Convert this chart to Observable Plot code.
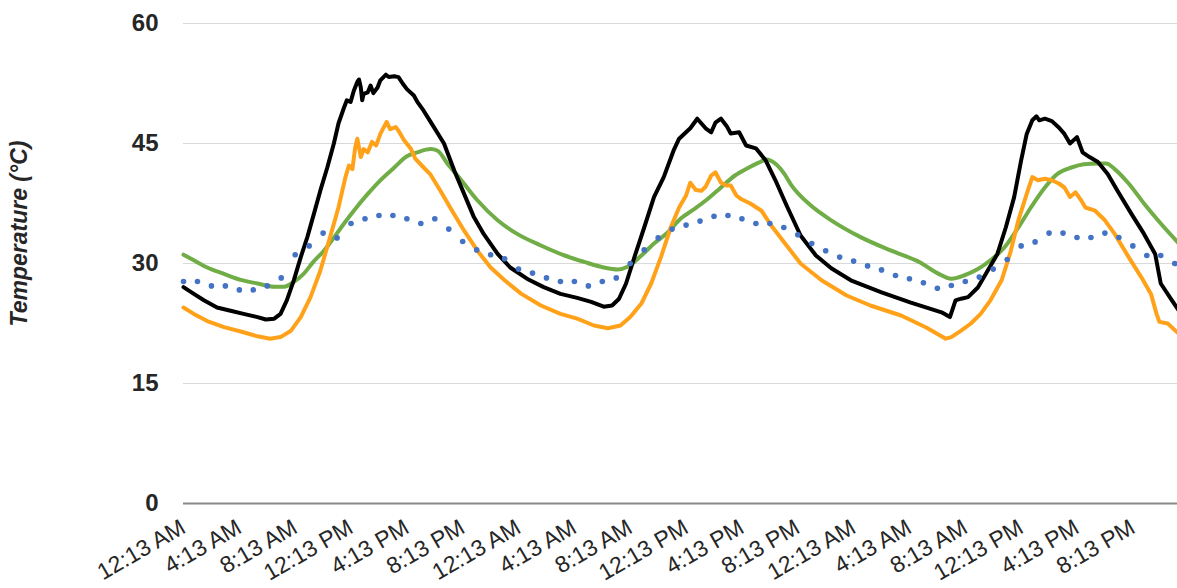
<!DOCTYPE html>
<html><head><meta charset="utf-8">
<script src="https://cdn.jsdelivr.net/npm/d3@7"></script>
<script src="https://cdn.jsdelivr.net/npm/@observablehq/plot@0.6"></script>
<style>
html,body{margin:0;padding:0;background:#fff;}
#chart{width:1177px;height:588px;overflow:hidden;}
</style></head><body><div id="chart"></div>
<script>
// [hours since 12:13 AM day 1, temperature °C]
const blackSeries = [[0,27.05],[0.74,26.2],[1.46,25.4],[2.4,24.5],[3.37,24.1],[4.3,23.7],[5.3,23.3],[5.9,23.0],[6.5,23.1],[6.95,23.7],[7.4,25.4],[7.9,27.9],[8.4,30.8],[8.87,33.3],[9.34,36.2],[9.8,39.1],[10.3,42.0],[10.77,45.0],[11.1,47.5],[11.5,49.5],[11.7,50.4],[11.97,50.2],[12.2,51.6],[12.45,52.7],[12.57,53.0],[12.7,52.0],[12.8,50.4],[12.9,51.2],[13.2,51.4],[13.4,52.25],[13.6,51.3],[13.9,52.0],[14.1,52.9],[14.5,53.6],[14.7,53.3],[15.1,53.4],[15.4,53.3],[15.7,52.5],[16.0,51.8],[16.5,51.0],[16.75,50.2],[17.2,49.1],[17.7,47.7],[18.66,45.0],[19.4,41.6],[20.1,38.7],[20.8,35.8],[21.5,33.7],[22.5,31.2],[23.4,29.5],[24.6,28.1],[25.8,27.05],[27.0,26.2],[28.2,25.7],[29.2,25.2],[30.1,24.6],[30.7,24.75],[31.2,25.6],[31.7,27.5],[32.3,30.8],[33.0,34.5],[33.7,38.3],[34.4,40.8],[35.1,44.1],[35.5,45.6],[36.3,46.9],[36.8,48.1],[37.4,46.9],[37.8,46.4],[38.1,47.6],[38.5,48.1],[38.9,47.2],[39.2,46.25],[39.8,46.4],[40.3,44.75],[41.0,44.4],[41.7,42.9],[42.4,40.4],[43.2,37.25],[44.2,33.5],[45.3,31.0],[46.4,29.4],[47.8,27.9],[50.0,26.4],[52.1,25.1],[54.3,23.9],[54.9,23.3],[55.3,25.4],[55.7,25.6],[56.2,25.8],[56.9,27.0],[57.6,29.1],[58.3,31.2],[58.9,34.5],[59.5,38.3],[60.0,42.9],[60.4,46.2],[60.8,47.9],[61.1,48.4],[61.3,47.9],[61.7,48.1],[62.2,47.8],[62.7,47.0],[63.1,46.2],[63.5,45.0],[64.0,45.8],[64.4,43.9],[64.9,43.3],[65.5,42.7],[66.2,41.2],[66.9,39.1],[67.9,36.2],[68.8,33.7],[69.6,31.2],[70.0,27.5],[70.8,25.4],[71.3,24.1]];
const orangeSeries = [[0,24.5],[0.74,23.7],[1.7,22.8],[2.9,22.05],[4.1,21.5],[5.3,20.9],[6.2,20.6],[6.95,20.8],[7.7,21.6],[8.4,23.3],[9.1,25.8],[9.8,29.1],[10.5,33.3],[11.1,37.0],[11.6,40.8],[11.85,42.25],[12.1,41.8],[12.3,44.5],[12.45,45.6],[12.7,43.3],[12.9,44.3],[13.2,43.9],[13.5,45.2],[13.8,44.75],[14.1,46.2],[14.55,47.7],[14.8,46.8],[15.2,47.05],[15.4,46.6],[15.8,45.4],[16.3,44.3],[16.6,43.1],[17.2,42.0],[17.7,41.1],[18.4,39.1],[19.1,37.0],[20.1,34.1],[21.05,31.6],[22.0,29.5],[23.0,27.9],[24.2,26.2],[25.6,24.75],[27.0,23.7],[28.2,23.1],[29.4,22.25],[30.4,21.9],[31.3,22.25],[32.0,23.3],[32.8,25.0],[33.5,27.5],[34.2,30.8],[34.9,34.5],[35.5,37.0],[36.0,38.5],[36.3,40.1],[36.7,39.2],[37.1,39.1],[37.4,39.6],[37.8,41.0],[38.1,41.4],[38.5,40.1],[38.9,39.75],[39.2,39.75],[39.6,38.5],[39.9,38.1],[40.6,37.5],[41.4,36.6],[42.1,34.75],[43.2,32.25],[44.2,30.0],[45.7,27.9],[47.5,26.0],[49.2,24.75],[51.4,23.5],[53.2,22.0],[54.6,20.6],[55.0,20.8],[55.7,21.6],[56.4,22.5],[57.1,23.7],[57.8,25.4],[58.6,27.9],[59.2,31.2],[59.8,35.4],[60.4,38.7],[60.8,40.8],[61.2,40.4],[61.7,40.6],[62.2,40.4],[62.7,40.0],[63.1,39.5],[63.5,38.3],[63.9,38.9],[64.3,37.9],[64.6,37.0],[65.3,36.6],[66.0,35.4],[66.7,33.7],[67.7,30.8],[68.6,28.3],[69.3,26.2],[69.7,23.7],[69.9,22.7],[70.5,22.5],[71.3,21.2]];
const greenSeries = [[0,31.1],[0.74,30.4],[1.7,29.5],[2.9,28.7],[4.1,27.95],[5.3,27.5],[6.5,27.1],[7.2,27.1],[7.9,27.7],[8.6,28.7],[9.3,30.2],[10.06,31.6],[10.8,33.3],[11.5,35.0],[12.2,36.6],[13.2,38.7],[14.1,40.4],[15.1,42.0],[16.0,43.4],[16.75,43.9],[17.7,44.3],[18.2,44.1],[18.9,42.5],[19.9,40.4],[21.05,37.9],[22.5,35.4],[23.9,33.7],[25.6,32.25],[27.3,31.0],[28.7,30.2],[30.1,29.5],[31.1,29.25],[31.8,29.6],[32.8,31.0],[33.7,32.5],[34.7,33.9],[35.6,35.6],[36.5,36.7],[37.5,38.0],[38.5,39.5],[39.5,41.0],[40.5,42.0],[41.2,42.6],[41.8,43.0],[42.3,42.6],[43.0,41.3],[43.5,39.9],[44.9,37.3],[46.4,35.4],[48.5,33.3],[50.7,31.6],[52.8,30.1],[54.0,28.8],[55.0,28.1],[55.9,28.5],[56.9,29.3],[57.8,30.4],[58.8,32.0],[59.8,34.5],[60.7,37.0],[61.7,39.5],[62.6,41.2],[63.6,42.0],[64.5,42.4],[65.5,42.5],[66.1,42.5],[66.7,41.8],[67.7,40.0],[68.8,37.5],[70.0,35.0],[71.3,32.5]];
const blueSeries = [[0,27.75],[1,27.75],[2,27.2],[3,27.2],[4,26.7],[5,26.7],[6,27.2],[7,28.2],[8,31.1],[9,32.2],[10,33.8],[11,33.2],[12,35.0],[13,35.6],[14,36.0],[15,36.0],[16,35.6],[17,35.0],[18,35.6],[19,34.3],[20,32.75],[21,31.7],[22,31.1],[23,30.6],[24,29.3],[25,28.8],[26,28.2],[27,27.75],[28,27.75],[29,27.2],[30,27.75],[31,28.2],[32,30.0],[33,31.7],[34,33.2],[35,34.3],[36,34.8],[37,35.3],[38,35.9],[39,36.0],[40,35.6],[41,35.0],[42,35.0],[43,34.5],[44,33.6],[45,32.5],[46,31.6],[47,30.8],[48,30.3],[49,29.7],[50,29.2],[51,28.5],[52,28.1],[53,27.6],[54,26.9],[55,27.25],[56,27.75],[57,28.3],[58,29.3],[59,30.5],[60,32.2],[61,32.7],[62,33.8],[63,33.8],[64,33.25],[65,33.25],[66,33.8],[67,33.25],[68,32.2],[69,31.0],[70,31.0],[71,30.0]];

const xTickHours = [0,4,8,12,16,20,24,28,32,36,40,44,48,52,56,60,64,68];
const xTickLabels = ["12:13 AM","4:13 AM","8:13 AM","12:13 PM","4:13 PM","8:13 PM","12:13 AM","4:13 AM","8:13 AM","12:13 PM","4:13 PM","8:13 PM","12:13 AM","4:13 AM","8:13 AM","12:13 PM","4:13 PM","8:13 PM"];
const yTicks = [0,15,30,45,60];
const yLabel = "Temperature (°C)";

const labelOf = new Map(xTickHours.map((h, i) => [h, xTickLabels[i]]));
const X = d => d[0], Y = d => d[1];

const chart = Plot.plot({
  width: 1177, height: 588,
  marginLeft: 183, marginRight: 0, marginTop: 23, marginBottom: 85,
  style: {fontFamily: "'Liberation Sans', Arial, sans-serif", background: "#fff"},
  x: {domain: [0, 71.2]},
  y: {domain: [0, 60]},
  marks: [
    Plot.ruleY(yTicks.filter(v => v > 0), {stroke: "#d9d9d9", strokeWidth: 1.2}),
    Plot.ruleY([0], {stroke: "#888", strokeWidth: 2.2}),
    Plot.axisY({ticks: yTicks, tickSize: 0, tickPadding: 25, fontSize: 24, fontWeight: "bold", fill: "#262626", label: null}),
    Plot.axisX({ticks: xTickHours, tickFormat: d => labelOf.get(d), tickRotate: -30, tickSize: 0, tickPadding: 22, fontSize: 23, fill: "#262626", label: null}),
    Plot.text([yLabel], {frameAnchor: "left", textAnchor: "middle", dx: -164, dy: -30, rotate: -90, fontSize: 23, fontWeight: "bold", fontStyle: "italic", fill: "#262626"}),
    Plot.line(greenSeries, {x: X, y: Y, stroke: "#70AD47", strokeWidth: 4, curve: "monotone-x"}),
    Plot.line(orangeSeries, {x: X, y: Y, stroke: "#FFA21A", strokeWidth: 4, strokeLinejoin: "round"}),
    Plot.line(blackSeries, {x: X, y: Y, stroke: "#000", strokeWidth: 4, strokeLinejoin: "round"}),
    Plot.dot(blueSeries, {x: X, y: Y, r: 2.8, fill: "#4472C4", stroke: "none"})
  ]
});
document.getElementById("chart").append(chart);
</script></body></html>
